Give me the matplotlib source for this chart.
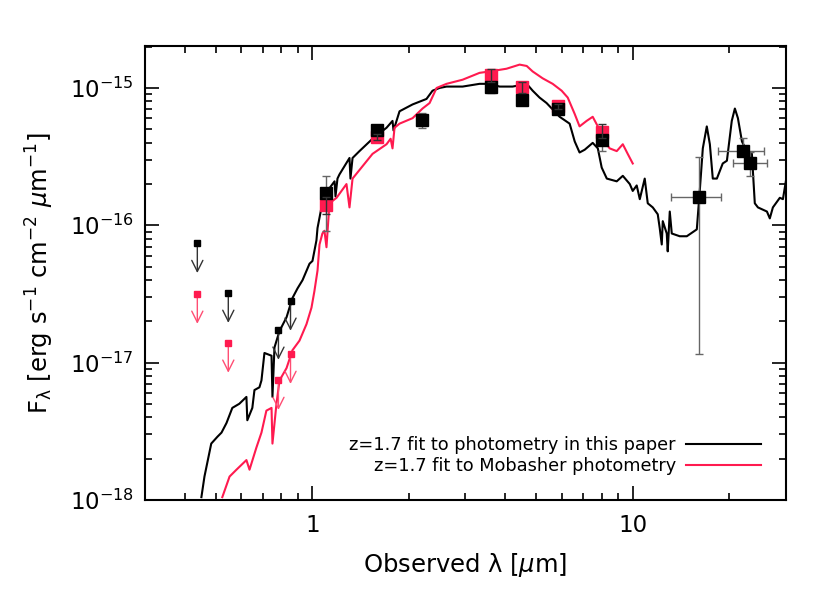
import numpy as np
import matplotlib
matplotlib.use("Agg")
import matplotlib.pyplot as plt
from matplotlib.ticker import LogLocator, NullFormatter, FixedLocator

RED = "#ff1a4f"

# model SED: fit to photometry in this paper (wavelength in micron, log10 flux)
fit_lam = [0.450, 0.460, 0.483, 0.505, 0.520, 0.539, 0.562, 0.591, 0.622, 0.626,
           0.649, 0.659, 0.683, 0.693, 0.708, 0.745, 0.750, 0.761, 0.789, 0.830,
           0.866, 0.898, 0.931, 0.979, 1.000, 1.029, 1.037, 1.067, 1.090, 1.130,
           1.172, 1.180, 1.197, 1.214, 1.305, 1.314, 1.334, 1.402, 1.540, 1.703,
           1.778, 1.791, 1.870, 2.054, 2.270, 2.371, 2.494, 2.622, 2.943, 3.325,
           3.573, 3.840, 4.217, 4.666, 4.870, 5.117, 5.383, 5.912, 6.353, 6.590,
           6.823, 7.079, 7.499, 7.780, 8.000, 8.299, 8.913, 9.311, 9.790, 10.00,
           10.29, 10.52, 10.90, 11.14, 11.55, 11.97, 12.14, 12.32, 12.41, 12.77,
           12.86, 13.05, 13.24, 14.02, 14.75, 15.85, 16.19, 16.55, 17.03, 17.41,
           17.78, 18.31, 19.10, 19.68, 20.38, 20.84, 21.30, 21.93, 22.70, 23.55,
           24.05, 24.60, 26.24, 26.79, 27.39, 28.79, 29.44, 30.06]
fit_logf = [-17.98, -17.83, -17.59, -17.54, -17.51, -17.44, -17.33, -17.30, -17.25, -17.42,
            -17.33, -17.20, -17.18, -17.13, -16.93, -16.95, -17.25, -16.89, -16.77, -16.67,
            -16.53, -16.46, -16.40, -16.28, -16.26, -16.11, -16.02, -15.87, -15.77, -15.73,
            -15.68, -15.79, -15.66, -15.63, -15.51, -15.66, -15.51, -15.46, -15.37, -15.29,
            -15.24, -15.31, -15.17, -15.12, -15.08, -15.02, -15.00, -14.99, -14.99, -14.97,
            -14.97, -14.99, -14.99, -14.97, -15.02, -15.07, -15.11, -15.21, -15.26, -15.39,
            -15.47, -15.45, -15.40, -15.44, -15.58, -15.66, -15.68, -15.64, -15.70, -15.75,
            -15.71, -15.81, -15.66, -15.84, -15.87, -15.92, -16.02, -16.14, -15.97, -16.06,
            -16.19, -15.90, -16.06, -16.08, -16.08, -16.03, -15.75, -15.44, -15.28, -15.41,
            -15.66, -15.66, -15.55, -15.53, -15.24, -15.15, -15.22, -15.39, -15.46, -15.48,
            -15.84, -15.87, -15.90, -15.95, -15.87, -15.80, -15.81, -15.68]

# model SED: fit to Mobasher photometry
mob_lam = [0.523, 0.551, 0.579, 0.622, 0.636, 0.668, 0.693, 0.718, 0.745, 0.750,
           0.772, 0.789, 0.830, 0.866, 0.911, 0.958, 0.993, 1.014, 1.037, 1.052,
           1.074, 1.090, 1.106, 1.130, 1.189, 1.277, 1.305, 1.334, 1.540, 1.703,
           1.754, 1.778, 1.804, 1.870, 2.054, 2.206, 2.321, 2.441, 2.622, 2.943,
           3.325, 3.573, 4.036, 4.434, 4.666, 4.870, 5.234, 5.623, 5.998, 6.266,
           6.590, 6.823, 7.178, 7.499, 7.780, 8.054, 8.472, 8.913, 9.311, 9.645,
           10.00]
mob_logf = [-17.98, -17.83, -17.78, -17.71, -17.78, -17.62, -17.51, -17.35, -17.33, -17.59,
            -17.30, -17.13, -17.04, -16.91, -16.84, -16.72, -16.60, -16.48, -16.33, -16.14,
            -16.06, -16.04, -16.16, -15.84, -15.80, -15.70, -15.87, -15.66, -15.48, -15.41,
            -15.37, -15.44, -15.29, -15.26, -15.22, -15.15, -15.11, -15.00, -14.97, -14.94,
            -14.89, -14.88, -14.86, -14.83, -14.84, -14.88, -14.93, -14.97, -15.02, -15.07,
            -15.19, -15.28, -15.24, -15.21, -15.28, -15.37, -15.44, -15.46, -15.41, -15.48,
            -15.55]

# photometry in this paper (detections)
phot_lam = [1.10, 1.59, 2.19, 3.60, 4.50, 5.83, 8.00, 16.1, 22.1, 23.2]
phot_f = [1.72e-16, 4.93e-16, 5.82e-16, 1.01e-15, 8.15e-16, 7.0e-16, 4.17e-16,
          1.61e-16, 3.47e-16, 2.84e-16]
phot_flo = [9.1e-17, 4.6e-16, 5.15e-16, 9.2e-16, 7.7e-16, 6.6e-16, 3.45e-16,
            1.16e-17, 3.2e-16, 2.3e-16]
phot_fhi = [2.28e-16, 5.3e-16, 6.55e-16, 1.08e-15, 8.6e-16, 7.4e-16, 4.7e-16,
            3.14e-16, 4.3e-16, 3.4e-16]
phot_xlo = [1.10, 1.59, 2.19, 3.60, 4.50, 5.83, 8.00, 13.2, 18.5, 20.6]
phot_xhi = [1.10, 1.59, 2.19, 3.60, 4.50, 5.83, 8.00, 18.9, 25.7, 26.3]

# Mobasher photometry (detections)
mob_plam = [1.10, 1.59, 3.60, 4.50, 5.83, 8.00]
mob_pf = [1.41e-16, 4.38e-16, 1.24e-15, 1.01e-15, 7.36e-16, 4.76e-16]
mob_pflo = [1.2e-16, 4.2e-16, 1.1e-15, 9.2e-16, 7.0e-16, 4.3e-16]
mob_pfhi = [1.6e-16, 4.6e-16, 1.38e-15, 1.1e-15, 7.7e-16, 5.5e-16]

# upper limits
lim_lam = [0.437, 0.546, 0.783, 0.854]
lim_phot = [7.45e-17, 3.23e-17, 1.74e-17, 2.83e-17]
lim_mob = [3.18e-17, 1.40e-17, 7.5e-18, 1.16e-17]

yticks = [1e-18, 1e-17, 1e-16, 1e-15]
ytick_labels = [r"$10^{-18}$", r"$10^{-17}$", r"$10^{-16}$", r"$10^{-15}$"]

fig = plt.figure(figsize=(8.3, 5.93), dpi=100)
ax = fig.add_axes([0.1747, 0.157, 0.7723, 0.7654])

ax.plot(fit_lam, 10 ** np.array(fit_logf), color="black", lw=1.5,
        label="z=1.7 fit to photometry in this paper")
ax.plot(mob_lam, 10 ** np.array(mob_logf), color=RED, lw=1.5,
        label="z=1.7 fit to Mobasher photometry")

# error bars
pf = np.array(phot_f)
pl = np.array(phot_lam)
ax.errorbar(pl, pf, yerr=[pf - np.array(phot_flo), np.array(phot_fhi) - pf],
            xerr=[pl - np.array(phot_xlo), np.array(phot_xhi) - pl],
            fmt="none", ecolor="#666666", elinewidth=1.0, capsize=3, zorder=3)
mf = np.array(mob_pf)
ax.errorbar(mob_plam, mf, yerr=[mf - np.array(mob_pflo), np.array(mob_pfhi) - mf],
            fmt="none", ecolor="#333333", elinewidth=1.0, capsize=3, zorder=5)

ax.plot(mob_plam, mob_pf, "s", color=RED, ms=8.5, zorder=4)
ax.plot(phot_lam, phot_f, "s", color="black", ms=8.5, zorder=4)

# upper limit arrows
drop = 10 ** -0.22
for lam, f, c, ac in [(l, f, "black", "#333333") for l, f in zip(lim_lam, lim_phot)] + \
                     [(l, f, RED, "#ff4d73") for l, f in zip(lim_lam, lim_mob)]:
    ax.plot(lam, f, "s", color=c, ms=4, zorder=6)
    ax.annotate("", xy=(lam, f * drop), xytext=(lam, f),
                arrowprops=dict(arrowstyle="->,head_length=0.8,head_width=0.4",
                                color=ac, lw=1.0, shrinkA=0, shrinkB=0))

ax.set_xscale("log")
ax.set_yscale("log")
ax.set_xlim(0.3, 30.1)
ax.set_ylim(1e-18, 2.02e-15)
ax.set_xticks([1, 10])
ax.set_xticklabels(["1", "10"])
ax.xaxis.set_minor_locator(LogLocator(base=10, subs=np.arange(2, 10)))
ax.xaxis.set_minor_formatter(NullFormatter())
ax.yaxis.set_major_locator(FixedLocator(yticks))
ax.set_yticklabels(ytick_labels)
ax.yaxis.set_minor_locator(LogLocator(base=10, subs=np.arange(2, 10)))
ax.yaxis.set_minor_formatter(NullFormatter())
ax.tick_params(which="both", direction="in", top=True, right=True, width=1.2)
ax.tick_params(which="major", length=10, labelsize=16.5, pad=8)
ax.tick_params(which="minor", length=5)
ax.tick_params(axis="x", which="major", pad=10)
for s in ax.spines.values():
    s.set_linewidth(1.5)

ax.set_xlabel(r"Observed λ [$\mu$m]", fontsize=17.5, labelpad=10)
ax.set_ylabel(r"F$_{\mathrm{λ}}$ [erg s$^{-1}$ cm$^{-2}$ $\mu$m$^{-1}$]", fontsize=17.5,
              labelpad=10)

ax.legend(loc="lower right", frameon=False, markerfirst=False, fontsize=12.8,
          handlelength=4.2, borderaxespad=1.0, labelspacing=0.15, handletextpad=0.6)

fig.savefig("out.png", dpi=100)
